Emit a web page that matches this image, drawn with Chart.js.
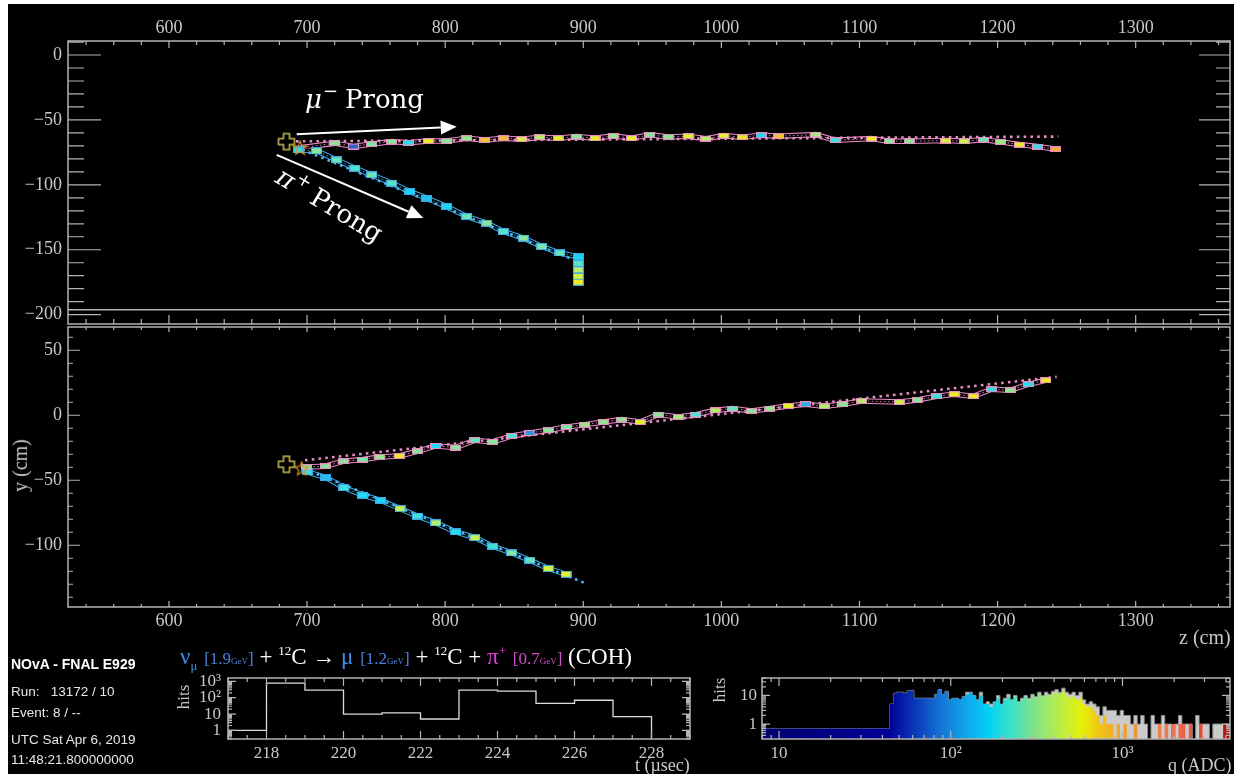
<!DOCTYPE html>
<html>
<head>
<meta charset="utf-8">
<script src="https://cdn.jsdelivr.net/npm/chart.js@4.4.1/dist/chart.umd.min.js"></script>
<style>
  html, body { margin: 0; padding: 0; background: #ffffff; }
  #stage { position: absolute; left: 8px; top: 4px; width: 1226px; height: 770px; background: #000; }
  canvas { position: absolute; }
  .txt { position: absolute; white-space: nowrap; color: #c8c8c8; font-family: 'Liberation Serif', serif; }
  .info { position: absolute; white-space: nowrap; color: #e6e6e6; font: 13.5px 'Liberation Sans', sans-serif; }
  #title { position: absolute; left: 180px; top: 644px; white-space: nowrap; color: #ffffff; font: 23px 'Liberation Serif', serif; }
  #title sub, #title sup { font-size: 13px; line-height: 0; }
  #title .nu { color: #3a8ee8; }
  #title .pi { color: #e23ee0; }
  #title .e  { font-size: 17px; margin-left: 1px; }
  #title .eb { color: #4a82d8; }
  #title .ep { color: #d050c0; }
  #title .u  { font-size: 9px; }
</style>
</head>
<body>
<div id="stage"></div>
<canvas id="xzView" width="1234" height="330" style="left:0;top:0"></canvas>
<canvas id="yzView" width="1234" height="330" style="left:0;top:320px"></canvas>
<canvas id="timeHist" width="530" height="104" style="left:170px;top:670px"></canvas>
<canvas id="adcHist" width="534" height="104" style="left:700px;top:670px"></canvas>

<div class="txt" style="left:-6px;top:454px;font-size:20px;transform:rotate(-90deg)">y (cm)</div>
<div class="txt" style="left:1179px;top:626px;font-size:20px">z (cm)</div>
<div class="txt" style="left:172px;top:687px;font-size:17px;transform:rotate(-90deg)">hits</div>
<div class="txt" style="left:708px;top:680px;font-size:17px;transform:rotate(-90deg)">hits</div>
<div class="txt" style="left:635px;top:755px;font-size:18px">t (µsec)</div>
<div class="txt" style="left:1168px;top:755px;font-size:18px">q (ADC)</div>

<div class="info" style="left:11px;top:656px;font:bold 14px 'Liberation Sans', sans-serif;color:#ffffff">NOvA - FNAL E929</div>
<div class="info" style="left:11px;top:684px">Run:&nbsp;&nbsp; 13172 / 10</div>
<div class="info" style="left:11px;top:705px">Event: 8 / --</div>
<div class="info" style="left:11px;top:732px">UTC Sat Apr 6, 2019</div>
<div class="info" style="left:11px;top:752px">11:48:21.800000000</div>

<div id="title"><span class="nu">ν<sub>μ</sub></span> <span class="e eb">[1.9<span class="u">GeV</span>]</span> + <sup>12</sup>C → <span class="nu">μ</span> <span class="e eb">[1.2<span class="u">GeV</span>]</span> + <sup>12</sup>C + <span class="pi">π<sup>+</sup></span> <span class="e ep">[0.7<span class="u">GeV</span>]</span> (COH)</div>

<script>
// ---------------- axis ticks ----------------
const zTicks = [600, 700, 800, 900, 1000, 1100, 1200, 1300];
const xViewTicks = [0, -50, -100, -150, -200];
const yViewTicks = [50, 0, -50, -100];
const timeTicks = [218, 220, 222, 224, 226, 228];
const hitTicks = [1, 10, 100, 1000];
const adcTicks = [10, 100, 1000];
const adcHitTicks = [1, 10];

// ---------------- XZ view (top) ----------------
// muon prong cells: z (cm), x (cm), charge (ADC)
const muXZ_z = [720.2, 733.5, 746.8, 761.3, 773.3, 787.8, 801.1, 815.6, 828.8, 842.1, 855.4, 868.6, 881.9, 895.2, 908.5, 921.7, 935.0, 948.3, 961.5, 976.0, 988.8, 1001.9, 1015.1, 1028.7, 1041.7, 1068.3, 1082.3, 1108.8, 1121.6, 1136.1, 1162.6, 1175.7, 1189.6, 1202.2, 1215.7, 1229.0, 1242.3];
const muXZ_x = [-67.9, -70.5, -68.5, -66.7, -67.5, -66.2, -66.2, -64.1, -65.4, -64.1, -64.8, -63.3, -64.1, -62.8, -64.1, -62.3, -64.1, -61.5, -63.1, -62.5, -64.4, -62.1, -63.3, -61.8, -62.5, -61.3, -65.6, -64.4, -66.4, -66.4, -65.9, -66.4, -65.2, -66.9, -69.0, -70.5, -72.5];
const muXZ_q = [300, 70, 280, 300, 180, 600, 300, 320, 800, 850, 500, 400, 550, 300, 550, 320, 550, 300, 300, 550, 400, 550, 620, 170, 800, 350, 200, 600, 300, 300, 500, 450, 260, 350, 600, 190, 1000];

// pion prong cells
const piXZ_z = [693.6, 706.9, 721.4, 734.7, 746.8, 761.3, 774.5, 786.6, 801.1, 815.6, 830.1, 842.1, 856.6, 869.9, 883.1, 896.4, 896.4, 896.4, 896.4, 896.4];
const piXZ_x = [-73.1, -73.8, -80.8, -87.2, -92.3, -98.7, -105.2, -110.2, -116.7, -124.4, -129.5, -135.9, -141.0, -147.5, -152.5, -155.5, -160.5, -165.5, -170.5, -175.0];
const piXZ_q = [180, 300, 250, 220, 260, 230, 160, 140, 160, 250, 300, 230, 300, 280, 250, 160, 230, 400, 500, 600];

// fitted prong directions
const muXZfit_z = [692, 1244];
const muXZfit_x = [-66.5, -62.8];
const piXZfit_z = [692, 898.8];
const piXZfit_x = [-71.0, -160.2];

const vtxXZ = { z: 685.1, x: -66.7 };
const recoVtxXZ = { z: 694.9, x: -71.5 };
const xzEdge = -196.2;

// ---------------- YZ view (bottom) ----------------
const muYZ_z = [699.7, 713.0, 726.2, 740.3, 752.8, 766.8, 779.8, 793.3, 807.6, 821.6, 834.4, 848.2, 861.4, 874.7, 888.0, 901.2, 914.5, 927.8, 941.1, 954.3, 968.8, 981.6, 995.4, 1008.2, 1021.9, 1035.2, 1048.4, 1061.0, 1074.5, 1087.8, 1101.6, 1128.8, 1141.9, 1155.9, 1168.6, 1182.4, 1195.7, 1209.0, 1222.2, 1235.0];
const muYZ_y = [-39.8, -39.2, -35.4, -34.1, -32.1, -31.3, -27.7, -23.6, -24.8, -19.2, -20.5, -15.9, -13.6, -11.5, -9.0, -7.2, -5.2, -3.3, -5.2, 0.5, -1.3, 0.5, 3.8, 5.2, 3.3, 5.2, 7.2, 8.5, 6.9, 8.5, 11.0, 10.2, 11.8, 14.6, 16.2, 14.6, 20.0, 19.2, 23.8, 26.9];
const muYZ_q = [300, 300, 300, 280, 320, 600, 300, 170, 300, 250, 300, 220, 100, 300, 280, 330, 320, 300, 550, 300, 350, 220, 400, 250, 300, 320, 550, 120, 400, 300, 400, 450, 300, 200, 600, 600, 190, 320, 180, 600];

const piYZ_z = [700.1, 713.7, 726.7, 740.3, 753.3, 767.3, 779.8, 793.3, 807.8, 821.6, 834.4, 848.2, 861.4, 874.7, 887.5];
const piYZ_y = [-43.6, -47.9, -55.6, -61.5, -65.4, -71.8, -77.5, -82.8, -89.8, -94.1, -100.8, -105.9, -111.5, -117.9, -122.3];
const piYZ_q = [200, 130, 200, 170, 160, 450, 200, 400, 180, 450, 200, 300, 250, 500, 550];

const muYZfit_z = [698.5, 1242.8];
const muYZfit_y = [-34.6, 29.5];
const piYZfit_z = [698.0, 900.9];
const piYZfit_y = [-41.0, -129.0];

const vtxYZ = { z: 685.1, y: -37.7 };
const recoVtxYZ = { z: 696.1, y: -41.0 };

// ---------------- hit time spectrum (1 µs bins from 217 µs) ----------------
const timeBinStart = 217;
const timeCounts = [1, 780, 290, 10, 12, 5, 290, 250, 45, 70, 7];

// ---------------- hit charge spectrum ----------------
// first wide bin, then bins of 0.02 in log10(q)
const adcWideEdge = 7.96;
const adcFineStart = 44.26;
const adcLogStep = 0.02;
const adcAll = [5, 12, 13, 13, 12, 15, 15, 8, 8, 8, 8, 8, 8, 11, 16, 11, 14, 7, 8, 8, 7, 9, 13, 13, 10, 7, 13, 5, 6, 5, 6, 10, 5, 8, 11, 7, 10, 6, 8, 10, 8, 11, 9, 13, 10, 13, 11, 14, 16, 13, 18, 13, 11, 13, 10, 13, 7, 5, 6, 5, 4, 2, 4, 3, 3, 3, 2, 3, 2, 2, 1, 2, 1, 2, 1, 0, 2, 1, 1, 2, 1, 1, 0, 1, 2, 1, 1, 1, 0, 2, 1, 1, 1, 0, 1, 1, 1, 1, 1];
const adcSlice = [5, 12, 13, 13, 12, 15, 15, 8, 8, 8, 8, 8, 8, 11, 16, 11, 14, 7, 8, 8, 7, 9, 11, 13, 10, 7, 10, 5, 5, 4, 6, 8, 5, 7, 9, 7, 9, 6, 7, 9, 7, 10, 8, 11, 9, 11, 9, 12, 13, 11, 14, 10, 8, 9, 7, 8, 5, 4, 4, 3, 2, 1, 2, 1, 1, 0, 1, 0, 1, 0, 0, 1, 0, 0, 0, 0, 0, 0, 1, 0, 1, 0, 1, 0, 1, 1, 0, 1, 0, 0, 1, 0, 0, 0, 0, 0, 0, 1, 1];
const adcWideCount = 0.7;

// ---------------- styling helpers ----------------
const AXIS = '#b4b4b4';
const LABEL = '#c8c8c8';
const SERIF = "'Liberation Serif', serif";

// charge colour scale: [log10(q), rgb]
const PALETTE = [
  [0.90, [0, 0, 112]], [1.64, [0, 0, 150]], [1.80, [10, 60, 185]], [1.95, [20, 120, 215]],
  [2.10, [16, 168, 236]], [2.22, [0, 210, 245]], [2.35, [60, 224, 200]], [2.48, [126, 226, 140]],
  [2.62, [180, 236, 80]], [2.76, [230, 240, 10]], [2.86, [240, 200, 20]], [3.00, [240, 160, 48]],
  [3.30, [240, 112, 80]], [3.50, [224, 64, 48]], [3.63, [170, 0, 0]]
];
function paletteRGB(q) {
  const l = Math.log10(q);
  if (l <= PALETTE[0][0]) return PALETTE[0][1];
  for (let i = 1; i < PALETTE.length; i++) {
    if (l <= PALETTE[i][0]) {
      const [l0, c0] = PALETTE[i - 1], [l1, c1] = PALETTE[i];
      const t = (l - l0) / (l1 - l0);
      return c0.map((v, k) => v + t * (c1[k] - v));
    }
  }
  return PALETTE[PALETTE.length - 1][1];
}
function cellColor(q) {
  const c = paletteRGB(q).map(v => Math.round(v + (255 - v) * 0.12));
  return `rgb(${c[0]},${c[1]},${c[2]})`;
}

const imgCache = {};
function cellImage(fill, edge, w, h) {
  const key = [fill, edge, w, h].join('|');
  if (imgCache[key]) return imgCache[key];
  const c = document.createElement('canvas');
  c.width = w; c.height = h;
  const g = c.getContext('2d');
  g.fillStyle = fill; g.fillRect(0, 0, w, h);
  g.strokeStyle = edge; g.lineWidth = 1; g.strokeRect(0.5, 0.5, w - 1, h - 1);
  return (imgCache[key] = c);
}
function plusImage() {
  const c = document.createElement('canvas');
  c.width = 20; c.height = 20;
  const g = c.getContext('2d');
  const a = 7, b = 13;
  g.strokeStyle = '#c8bf52'; g.lineWidth = 1.5;
  g.beginPath();
  g.moveTo(a, 2); g.lineTo(b, 2); g.lineTo(b, a); g.lineTo(18, a); g.lineTo(18, b); g.lineTo(b, b);
  g.lineTo(b, 18); g.lineTo(a, 18); g.lineTo(a, b); g.lineTo(2, b); g.lineTo(2, a); g.lineTo(a, a);
  g.closePath(); g.stroke();
  return c;
}
function starImage() {
  const c = document.createElement('canvas');
  c.width = 16; c.height = 16;
  const g = c.getContext('2d');
  g.strokeStyle = '#d8902a'; g.lineWidth = 1.2;
  g.beginPath();
  for (let i = 0; i < 10; i++) {
    const r = i % 2 ? 3.2 : 7.2, t = -Math.PI / 2 + i * Math.PI / 5;
    const px = 8 + r * Math.cos(t), py = 8.5 + r * Math.sin(t);
    i ? g.lineTo(px, py) : g.moveTo(px, py);
  }
  g.closePath(); g.stroke();
  return c;
}
const PLUS = plusImage(), STAR = starImage();

const pts = (xs, ys) => xs.map((v, i) => ({ x: v, y: ys[i] }));
const steps = (a, b, s) => { const out = []; for (let v = a; v <= b + 1e-9; v += s) out.push(+v.toFixed(6)); return out; };
const logMinor = (lo, hi) => { const out = []; for (let e = Math.floor(Math.log10(lo)); e <= Math.ceil(Math.log10(hi)); e++) for (let k = 2; k <= 9; k++) { const v = k * 10 ** e; if (v >= lo && v <= hi) out.push(v); } return out; };
const minus = v => (v < 0 ? '\u2212' + Math.abs(v) : String(v));
const pow10 = v => ({ 1: '1', 10: '10', 100: '10\u00b2', 1000: '10\u00b3' }[v] ?? String(v));

// fixed axis boxes: no extra room reserved for overhanging labels
const fixX = h => s => { s.height = h; s.paddingLeft = 0; s.paddingRight = 0; };
const fixY = w => s => { s.width = w; s.paddingTop = 0; s.paddingBottom = 0; };

// ---------------- plugins ----------------
const frameTicks = {
  id: 'frameTicks',
  afterDraw(chart, args, o) {
    if (!o.xMajor) return;
    const { ctx, chartArea: a, scales: { x: xs, y: ys } } = chart;
    ctx.save();
    ctx.strokeStyle = AXIS;
    ctx.lineWidth = 1.5;
    ctx.strokeRect(a.left, a.top, a.right - a.left, a.bottom - a.top);
    ctx.lineWidth = 1.2;
    ctx.beginPath();
    const horiz = (vals, len, edge, dir) => vals.forEach(v => {
      const p = xs.getPixelForValue(v);
      if (p < a.left - 0.5 || p > a.right + 0.5) return;
      ctx.moveTo(p, edge); ctx.lineTo(p, edge + dir * len);
    });
    const vert = (vals, len, edge, dir) => vals.forEach(v => {
      const p = ys.getPixelForValue(v);
      if (p < a.top - 0.5 || p > a.bottom + 0.5) return;
      ctx.moveTo(edge, p); ctx.lineTo(edge + dir * len, p);
    });
    const L = o.len;
    horiz(o.xMajor, L.top[0], a.top, 1); horiz(o.xMinor, L.top[1], a.top, 1);
    horiz(o.xMajor, L.bottom[0], a.bottom, -1); horiz(o.xMinor, L.bottom[1], a.bottom, -1);
    vert(o.yMajor, L.left[0], a.left, 1); vert(o.yMinor, L.left[1], a.left, 1);
    vert(o.yMajor, L.right[0], a.right, -1); vert(o.yMinor, L.right[1], a.right, -1);
    ctx.stroke();
    ctx.restore();
  }
};

const prongNotes = {
  id: 'prongNotes',
  afterDatasetsDraw(chart, args, o) {
    if (!o.items) return;
    const { ctx, scales: { x: xs, y: ys } } = chart;
    const px = p => [xs.getPixelForValue(p[0]), ys.getPixelForValue(p[1])];
    ctx.save();
    ctx.fillStyle = '#ffffff';
    ctx.strokeStyle = '#ffffff';
    o.items.forEach(n => {
      const [x0, y0] = px(n.from), [x1, y1] = px(n.to);
      const ang = Math.atan2(y1 - y0, x1 - x0), head = 16, half = 7;
      const bx = x1 - head * Math.cos(ang), by = y1 - head * Math.sin(ang);
      ctx.lineWidth = 2;
      ctx.beginPath(); ctx.moveTo(x0, y0); ctx.lineTo(bx, by); ctx.stroke();
      ctx.beginPath();
      ctx.moveTo(x1, y1);
      ctx.lineTo(bx - half * Math.sin(ang), by + half * Math.cos(ang));
      ctx.lineTo(bx + half * Math.sin(ang), by - half * Math.cos(ang));
      ctx.closePath(); ctx.fill();

      const [tx, ty] = px(n.at);
      ctx.save();
      ctx.translate(tx, ty);
      ctx.rotate(n.rot * Math.PI / 180);
      ctx.textBaseline = 'alphabetic';
      let cx = 0;
      ctx.font = "italic 26px 'DejaVu Serif', serif";
      ctx.fillText(n.sym, cx, 0); cx += ctx.measureText(n.sym).width + 1;
      ctx.font = "18px 'DejaVu Serif', serif";
      ctx.fillText(n.charge, cx, -11); cx += ctx.measureText(n.charge).width + 7;
      ctx.font = "26px 'DejaVu Serif', serif";
      ctx.fillText(n.word, cx, 0);
      ctx.restore();
    });
    ctx.restore();
  }
};

Chart.register(frameTicks, prongNotes);
Chart.defaults.animation = false;
Chart.defaults.responsive = false;
Chart.defaults.events = [];
Chart.defaults.plugins.legend.display = false;
Chart.defaults.plugins.tooltip.enabled = false;

// ---------------- dataset builders ----------------
function cells(zs, vs, qs, edge, w, h) {
  return {
    data: pts(zs, vs), showLine: false, pointRadius: 4, order: 1,
    pointStyle: c => cellImage(cellColor(qs[c.dataIndex] ?? 300), edge, w, h)
  };
}
function band(data, color) {
  return [
    { data, showLine: true, pointRadius: 0, borderColor: color, borderWidth: 5.5, order: 5 },
    { data, showLine: true, pointRadius: 0, borderColor: '#000000', borderWidth: 3.4, order: 4 },
    { data, showLine: true, pointRadius: 0, borderColor: color, borderWidth: 0.9, borderDash: [1.5, 2.5], order: 3 }
  ];
}
function fitLine(zs, vs, color) {
  return { data: pts(zs, vs), showLine: true, pointRadius: 0, borderColor: color, borderWidth: 2.6, borderDash: [2.6, 4.2], order: 2 };
}
function marker(pt, img) {
  return { data: [pt], showLine: false, pointRadius: 6, pointStyle: img, order: 0 };
}

const MU_EDGE = '#e98cc4', PI_EDGE = '#3aa6e4';

function viewOptions(yMin, yMax, yTicks, xPos, xHeight, xPad, pad, len, notes) {
  return {
    layout: { padding: pad, autoPadding: false },
    scales: {
      x: {
        type: 'linear', position: xPos, min: 526.9, max: 1368.3,
        grid: { display: false, drawTicks: false }, border: { display: false },
        afterBuildTicks: s => { s.ticks = zTicks.map(v => ({ value: v })); },
        afterFit: fixX(xHeight),
        ticks: { color: LABEL, font: { family: SERIF, size: 18 }, padding: xPad, autoSkip: false, maxRotation: 0, callback: v => String(v) }
      },
      y: {
        type: 'linear', min: yMin, max: yMax,
        grid: { display: false, drawTicks: false }, border: { display: false },
        afterBuildTicks: s => { s.ticks = yTicks.map(v => ({ value: v })); },
        afterFit: fixY(68),
        ticks: { color: LABEL, font: { family: SERIF, size: 18 }, padding: 6, autoSkip: false, callback: v => minus(v) }
      }
    },
    plugins: {
      frameTicks: {
        xMajor: zTicks, xMinor: steps(540, 1360, 20).filter(v => v % 100),
        yMajor: yTicks, yMinor: steps(-200, 60, 10).filter(v => v % 50),
        len
      },
      prongNotes: notes
    }
  };
}

// ---------------- XZ view ----------------
new Chart(document.getElementById('xzView'), {
  type: 'scatter',
  data: {
    datasets: [
      { data: pts([526.9, 1368.3], [xzEdge, xzEdge]), showLine: true, pointRadius: 0, borderColor: AXIS, borderWidth: 1.5, order: 6 },
      ...band([{ x: recoVtxXZ.z, y: recoVtxXZ.x }, ...pts(muXZ_z, muXZ_x)], MU_EDGE),
      ...band([{ x: recoVtxXZ.z, y: recoVtxXZ.x }, ...pts(piXZ_z, piXZ_x)], PI_EDGE),
      fitLine(muXZfit_z, muXZfit_x, MU_EDGE),
      fitLine(piXZfit_z, piXZfit_x, '#4cb6f0'),
      marker({ x: recoVtxXZ.z, y: recoVtxXZ.x }, STAR),
      cells(muXZ_z, muXZ_x, muXZ_q, MU_EDGE, 11, 6),
      cells(piXZ_z, piXZ_x, piXZ_q, PI_EDGE, 11, 7),
      marker({ x: vtxXZ.z, y: vtxXZ.x }, PLUS)
    ]
  },
  options: viewOptions(-207.2, 10.8, xViewTicks, 'top', 41, 2,
    { left: 0, top: 0, right: 4, bottom: 6 },
    { top: [7, 4], bottom: [9, 5], left: [33, 16], right: [31, 14] },
    {
      items: [
        { from: [692.5, -61.0], to: [808.4, -55.2], at: [698.5, -40.8], rot: 0, sym: 'μ', charge: '\u2212', word: 'Prong' },
        { from: [678.0, -76.9], to: [784.2, -125.6], at: [676.0, -97.5], rot: 31, sym: 'π', charge: '+', word: 'Prong' }
      ]
    })
});

// ---------------- YZ view ----------------
new Chart(document.getElementById('yzView'), {
  type: 'scatter',
  data: {
    datasets: [
      ...band([{ x: recoVtxYZ.z, y: recoVtxYZ.y }, ...pts(muYZ_z, muYZ_y)], MU_EDGE),
      ...band([{ x: recoVtxYZ.z, y: recoVtxYZ.y }, ...pts(piYZ_z, piYZ_y)], PI_EDGE),
      fitLine(muYZfit_z, muYZfit_y, MU_EDGE),
      fitLine(piYZfit_z, piYZfit_y, '#4cb6f0'),
      marker({ x: recoVtxYZ.z, y: recoVtxYZ.y }, STAR),
      cells(muYZ_z, muYZ_y, muYZ_q, MU_EDGE, 11, 6),
      cells(piYZ_z, piYZ_y, piYZ_q, PI_EDGE, 11, 7),
      marker({ x: vtxYZ.z, y: vtxYZ.y }, PLUS)
    ]
  },
  options: viewOptions(-147.5, 67.9, yViewTicks, 'bottom', 43, 3,
    { left: 0, top: 7, right: 4, bottom: 0 },
    { top: [5, 3], bottom: [6, 3], left: [12, 5], right: [10, 4] },
    {})
});

// ---------------- hit time spectrum ----------------
const timeSteps = timeCounts.map((c, i) => ({ x: timeBinStart + i, y: c }));
timeSteps.push({ x: timeBinStart + timeCounts.length, y: 0.01 });

function histScales(xCfg, yCfg, yWidth) {
  return {
    x: Object.assign({
      grid: { display: false, drawTicks: false }, border: { display: false },
      afterFit: fixX(35)
    }, xCfg),
    y: Object.assign({
      type: 'logarithmic',
      grid: { display: false, drawTicks: false }, border: { display: false },
      afterFit: fixY(yWidth)
    }, yCfg)
  };
}
const histTickFont = { family: SERIF, size: 17 };

new Chart(document.getElementById('timeHist'), {
  type: 'scatter',
  data: {
    datasets: [{
      data: timeSteps, showLine: true, stepped: 'before', pointRadius: 0,
      borderColor: '#dcdcdc', borderWidth: 1.3, clip: 0
    }]
  },
  options: {
    layout: { padding: { left: 0, top: 8, right: 10, bottom: 0 }, autoPadding: false },
    scales: histScales(
      {
        type: 'linear', min: 217, max: 229,
        afterBuildTicks: s => { s.ticks = timeTicks.map(v => ({ value: v })); },
        ticks: { color: LABEL, font: histTickFont, padding: 4, autoSkip: false, maxRotation: 0 }
      },
      {
        min: 0.3, max: 1600,
        afterBuildTicks: s => { s.ticks = hitTicks.map(v => ({ value: v })); },
        ticks: { color: LABEL, font: histTickFont, padding: 7, autoSkip: false, callback: v => pow10(v) }
      }, 58),
    plugins: {
      frameTicks: {
        xMajor: timeTicks, xMinor: steps(217, 229, 0.5).filter(v => !timeTicks.includes(v)),
        yMajor: hitTicks, yMinor: logMinor(0.3, 1600),
        len: { top: [8, 4], bottom: [8, 4], left: [8, 4], right: [8, 4] }
      }
    }
  }
});

// ---------------- hit charge spectrum ----------------
function adcSteps(counts) {
  const out = [{ x: adcWideEdge, y: adcWideCount }];
  const l0 = Math.log10(adcFineStart);
  counts.forEach((c, i) => out.push({ x: 10 ** (l0 + i * adcLogStep), y: c > 0 ? c : 0.01 }));
  out.push({ x: 10 ** (l0 + counts.length * adcLogStep), y: 0.01 });
  return out;
}
function paletteGradient(c) {
  const ch = c.chart;
  if (!ch.chartArea) return 'rgba(0,0,0,0)';
  const xs = ch.scales.x;
  const p0 = xs.getPixelForValue(10 ** PALETTE[0][0]);
  const p1 = xs.getPixelForValue(10 ** PALETTE[PALETTE.length - 1][0]);
  const g = ch.ctx.createLinearGradient(p0, 0, p1, 0);
  PALETTE.forEach(([l, rgb]) => {
    const t = (xs.getPixelForValue(10 ** l) - p0) / (p1 - p0);
    g.addColorStop(Math.min(1, Math.max(0, t)), `rgb(${rgb.map(Math.round).join(',')})`);
  });
  return g;
}

new Chart(document.getElementById('adcHist'), {
  type: 'scatter',
  data: {
    datasets: [
      {
        data: adcSteps(adcAll), showLine: true, stepped: 'before', pointRadius: 0,
        borderColor: '#8a8a8a', borderWidth: 1, backgroundColor: '#cbcbcb', fill: 'start', clip: 0, order: 2
      },
      {
        data: adcSteps(adcSlice), showLine: true, stepped: 'before', pointRadius: 0,
        borderWidth: 0, borderColor: 'rgba(0,0,0,0)', backgroundColor: paletteGradient, fill: 'start', clip: 0, order: 1
      }
    ]
  },
  options: {
    layout: { padding: { left: 0, top: 8, right: 4, bottom: 0 }, autoPadding: false },
    scales: histScales(
      {
        type: 'logarithmic', min: 7.96, max: 4227,
        afterBuildTicks: s => { s.ticks = adcTicks.map(v => ({ value: v })); },
        ticks: { color: LABEL, font: histTickFont, padding: 4, autoSkip: false, maxRotation: 0, callback: v => pow10(v) }
      },
      {
        min: 0.33, max: 40.7,
        afterBuildTicks: s => { s.ticks = adcHitTicks.map(v => ({ value: v })); },
        ticks: { color: LABEL, font: histTickFont, padding: 5, autoSkip: false, callback: v => pow10(v) }
      }, 62),
    plugins: {
      frameTicks: {
        xMajor: adcTicks, xMinor: logMinor(7.96, 4227),
        yMajor: adcHitTicks, yMinor: logMinor(0.33, 40.7),
        len: { top: [8, 4], bottom: [8, 4], left: [8, 4], right: [8, 4] }
      }
    }
  }
});
</script>
</body>
</html>
